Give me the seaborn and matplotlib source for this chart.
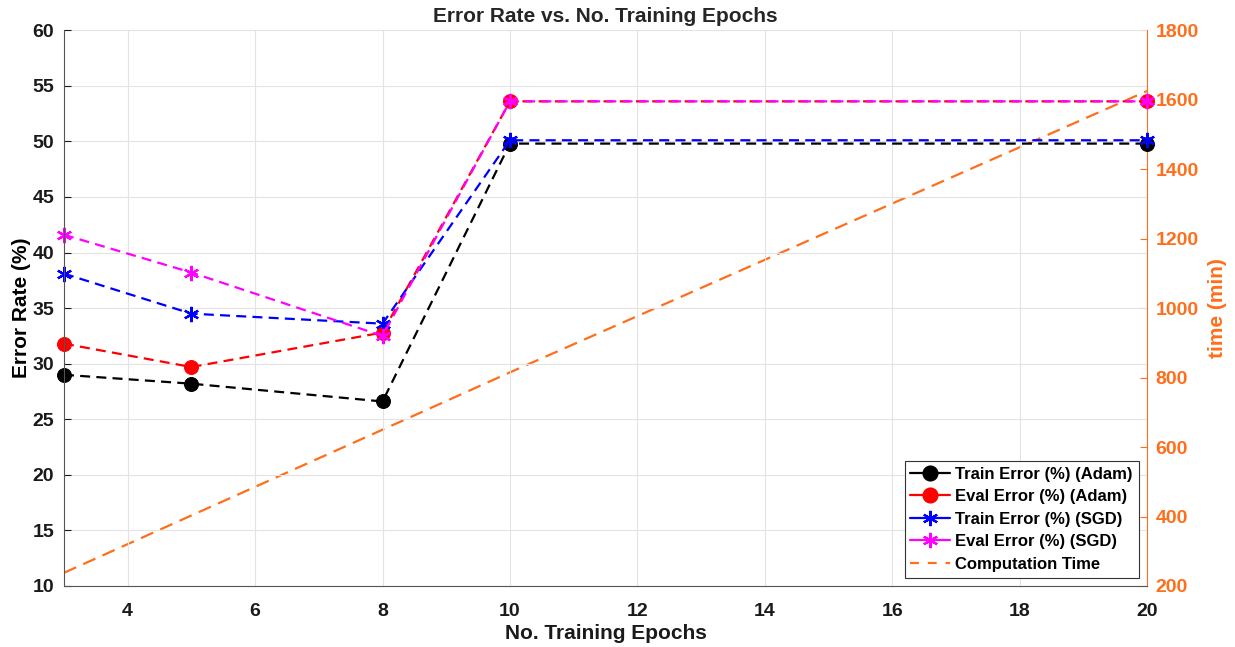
import pandas as pd
import matplotlib
matplotlib.use("Agg")
import matplotlib.pyplot as plt
import seaborn as sns
from matplotlib.lines import Line2D

# Data
epochs = [3, 5, 8, 10, 20]
train_adam = [29.0, 28.2, 26.6, 49.8, 49.8]
eval_adam = [31.8, 29.7, 32.8, 53.6, 53.6]
train_sgd = [38.1, 34.5, 33.6, 50.1, 50.1]
eval_sgd = [41.6, 38.2, 32.5, 53.6, 53.6]
comp_time = [238, 403, 650, 815, 1625]

x_ticks = [4, 6, 8, 10, 12, 14, 16, 18, 20]
left_ticks = [10, 15, 20, 25, 30, 35, 40, 45, 50, 55, 60]
right_ticks = [200, 400, 600, 800, 1000, 1200, 1400, 1600, 1800]

sns.set_style("whitegrid")
plt.rcParams["font.family"] = ["Liberation Sans", "DejaVu Sans"]
plt.rcParams["font.weight"] = "bold"

orange = "#FF6E1A"
dark = "#1a1a1a"
star = (6, 2, 0)
lw = 1.6

fig = plt.figure(figsize=(12.35, 6.47), dpi=100)
ax = fig.add_axes([0.0518, 0.0943, 0.877, 0.859])
ax2 = ax.twinx()

# Computation time on the right axis
sns.lineplot(x=epochs, y=comp_time, ax=ax2, color=orange, linewidth=lw)
ax2.lines[-1].set_dashes([6, 3.5])

series = [
    (train_adam, "black", "o", "Train Error (%) (Adam)"),
    (eval_adam, "red", "o", "Eval Error (%) (Adam)"),
    (train_sgd, "blue", star, "Train Error (%) (SGD)"),
    (eval_sgd, "magenta", star, "Eval Error (%) (SGD)"),
]
handles = []
for vals, col, mk, lab in series:
    sns.lineplot(x=epochs, y=vals, ax=ax, color=col, linewidth=lw)
    ln = ax.lines[-1]
    ln.set_dashes([4.5, 2.8])
    ln.set_marker(mk)
    ln.set_clip_on(False)
    if mk == "o":
        ln.set_markersize(10)
        ln.set_markerfacecolor(col)
        ln.set_markeredgecolor(col)
    else:
        ln.set_markersize(11)
        ln.set_markeredgewidth(1.6)
        ln.set_markeredgecolor(col)
    handles.append(Line2D([], [], color=col, marker=mk, linewidth=lw,
                          markersize=10 if mk == "o" else 11,
                          markeredgewidth=1.6, markerfacecolor=col, label=lab))
handles.append(Line2D([], [], color=orange, linestyle=(0, (4, 4)), linewidth=lw,
                      label="Computation Time"))

ax.set_zorder(ax2.get_zorder() + 1)
ax.patch.set_visible(False)

ax.set_xlim(3, 20)
ax.set_ylim(10, 60)
ax2.set_ylim(200, 1800)
ax.set_xticks(x_ticks)
ax.set_yticks(left_ticks)
ax2.set_yticks(right_ticks)
ax2.grid(False)
ax.grid(True, color="#e3e3e3", linewidth=0.8)

ax.tick_params(axis="y", direction="in", length=5, labelsize=14, colors=dark,
               width=0.8, pad=7)
ax.tick_params(axis="x", direction="in", length=5, labelsize=14, colors=dark,
               width=0.8, pad=12)
ax2.tick_params(axis="y", direction="in", length=5, labelsize=14, colors=orange,
                width=0.8, pad=6)
for t in ax.get_xticklabels() + ax.get_yticklabels():
    t.set_fontweight("bold")
for t in ax2.get_yticklabels():
    t.set_fontweight("bold")

for s in ["left", "bottom"]:
    ax.spines[s].set_color("#555555")
    ax.spines[s].set_linewidth(0.8)
for s in ["top", "right"]:
    ax.spines[s].set_visible(False)
ax2.spines["right"].set_color(orange)
ax2.spines["right"].set_linewidth(0.8)
ax2.spines["top"].set_visible(False)
ax2.spines["left"].set_visible(False)
ax2.spines["bottom"].set_visible(False)

ax.set_xlabel("No. Training Epochs", fontsize=15, fontweight="bold", color=dark,
              labelpad=3)
ax.set_ylabel("Error Rate (%)", fontsize=15, fontweight="bold", color="black",
              labelpad=1)
ax2.set_ylabel("time (min)", fontsize=15, fontweight="bold", color=orange,
               labelpad=7)
ax.set_title("Error Rate vs. No. Training Epochs", fontsize=15, fontweight="bold",
             pad=6)

leg = ax.legend(handles=handles, loc="lower right", fontsize=12,
                frameon=True, fancybox=False, framealpha=1, handlelength=2.4,
                borderpad=0.35, labelspacing=0.45, handletextpad=0.3,
                borderaxespad=0.5)
leg.get_frame().set_edgecolor("#333333")
leg.get_frame().set_linewidth(0.8)
for t in leg.get_texts():
    t.set_fontweight("bold")
    t.set_color("black")

fig.savefig("out.png", dpi=100)
